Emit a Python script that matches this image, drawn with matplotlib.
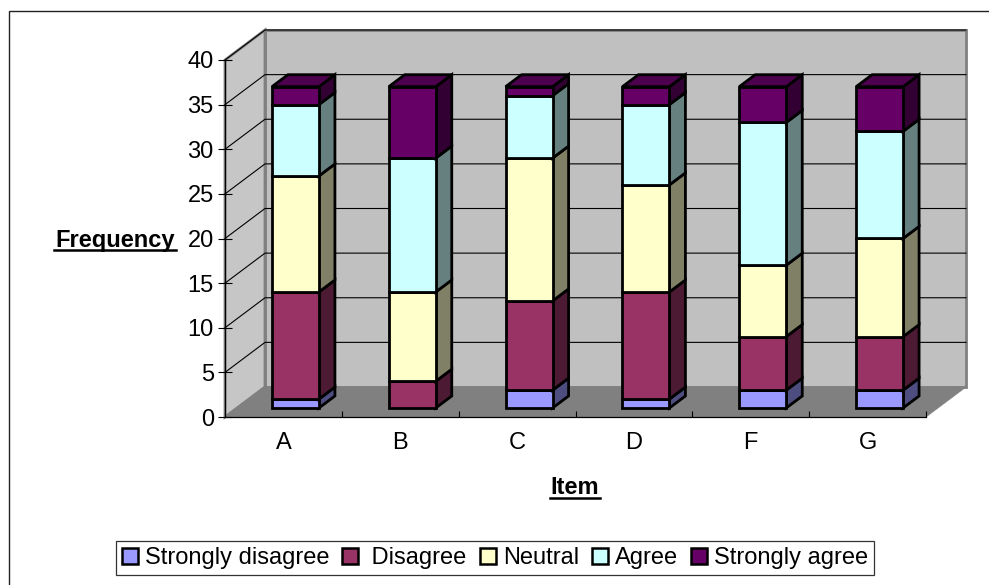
import matplotlib
matplotlib.use("Agg")
import matplotlib.pyplot as plt
from matplotlib.patches import Polygon, Rectangle
from matplotlib.lines import Line2D

plt.rcParams['font.family'] = ['Liberation Sans', 'DejaVu Sans']

items = ['A', 'B', 'C', 'D', 'F', 'G']
strongly_disagree = [1, 0, 2, 1, 2, 2]
disagree = [12, 3, 10, 12, 6, 6]
neutral = [13, 10, 16, 12, 8, 11]
agree = [8, 15, 7, 9, 16, 12]
strongly_agree = [2, 8, 1, 2, 4, 5]
series_names = ['Strongly disagree', ' Disagree', 'Neutral', 'Agree', 'Strongly agree']
series = [strongly_disagree, disagree, neutral, agree, strongly_agree]
face_colors = ['#9999FF', '#993366', '#FFFFCC', '#CCFFFF', '#660066']
side_colors = ['#4D4D80', '#4D1A33', '#808066', '#668080', '#330033']
top_color = '#4D004D'
yticks = list(range(0, 45, 5))

W, H = 989, 585
fs = 17
fig = plt.figure(figsize=(W / 100, H / 100), dpi=100, facecolor='white')


def fx(px):
    return px / W


def fy(py):
    return 1 - py / H


fig.add_artist(Rectangle((fx(8.5), fy(H + 5)), fx(W + 5), fy(10.5) - fy(H + 5),
                         transform=fig.transFigure, facecolor='white',
                         edgecolor='#222222', linewidth=1.0, zorder=-5))

ax = fig.add_axes([fx(225), fy(417), fx(926 - 225), fy(60) - fy(417)])
ax.set_xlim(0, len(items))
ax.set_ylim(0, 40)
ax.patch.set_visible(False)

DX, DY = 40 / (701 / 6), 30 / (357 / 40)   # 3-D depth in data units
NX = len(items)

# walls and floor
wall_kw = dict(clip_on=False, joinstyle='miter')
ax.add_patch(Polygon([(DX, DY), (NX + DX, DY), (NX + DX, 40 + DY), (DX, 40 + DY)],
                     facecolor='#C0C0C0', edgecolor='#808080', linewidth=2.0, zorder=1, **wall_kw))
ax.add_patch(Polygon([(0, 0), (DX, DY), (DX, 40 + DY), (0, 40)],
                     facecolor='#C6C6C6', edgecolor='#808080', linewidth=2.0, zorder=1, **wall_kw))
ax.add_patch(Polygon([(0, 0), (NX, 0), (NX + DX, DY), (DX, DY)],
                     facecolor='#808080', edgecolor='#808080', linewidth=0.5, zorder=1.1, **wall_kw))

# gridlines
for v in yticks[1:]:
    ax.plot([0, DX, NX + DX], [v, v + DY, v + DY], color='black', lw=0.8,
            clip_on=False, zorder=1.2, solid_joinstyle='miter')

# bars
BW = 47 / (701 / 6)
FRONT, BACK = 0.3, 0.7
edge = dict(edgecolor='black', linewidth=2.0, joinstyle='miter', clip_on=False, zorder=2)
for i in range(NX):
    x0 = i + 0.5 + FRONT * DX - BW / 2
    x1 = x0 + BW
    off_y = FRONT * DY
    ddx, ddy = (BACK - FRONT) * DX, (BACK - FRONT) * DY
    base = 0
    for s, vals in enumerate(series):
        v = vals[i]
        if v == 0:
            continue
        lo, hi = base + off_y, base + v + off_y
        ax.add_patch(Polygon([(x1, lo), (x1 + ddx, lo + ddy), (x1 + ddx, hi + ddy), (x1, hi)],
                             facecolor=side_colors[s], **edge))
        ax.add_patch(Polygon([(x0, lo), (x1, lo), (x1, hi), (x0, hi)],
                             facecolor=face_colors[s], **edge))
        base += v
    top = base + off_y
    ax.add_patch(Polygon([(x0, top), (x1, top), (x1 + ddx, top + ddy), (x0 + ddx, top + ddy)],
                         facecolor=top_color, **edge))

# axes
for side in ('top', 'right'):
    ax.spines[side].set_visible(False)
for side in ('left', 'bottom'):
    ax.spines[side].set_linewidth(0.9)
    ax.spines[side].set_color('black')
    ax.spines[side].set_zorder(3)
ax.set_yticks(yticks)
ax.set_yticklabels([str(v) for v in yticks], fontsize=fs)
ax.tick_params(axis='y', direction='inout', length=9.4, width=0.8, pad=3.4)
ax.set_xticks([i + 0.5 for i in range(NX)])
ax.set_xticklabels(items, fontsize=fs)
ax.tick_params(axis='x', which='major', length=0, pad=10.5)
ax.set_xticks(list(range(1, NX + 1)), minor=True)
ax.tick_params(axis='x', which='minor', direction='in', length=4.3, width=0.8)

# axis titles (underlined bold)
fig.text(fx(115), fy(240), 'Frequency', fontsize=fs, fontweight='bold', ha='center', va='center')
fig.add_artist(Line2D([fx(54), fx(176)], [fy(250), fy(250)], color='black', lw=1.8,
                      transform=fig.transFigure))
fig.text(fx(575), fy(488), 'Item', fontsize=fs, fontweight='bold', ha='center', va='center')
fig.add_artist(Line2D([fx(550), fx(600)], [fy(498), fy(498)], color='black', lw=1.8,
                      transform=fig.transFigure))

# legend
handles = [Rectangle((0, 0), 1, 1, facecolor=c, edgecolor='black', linewidth=1.8) for c in face_colors]
leg = fig.legend(handles, series_names, ncol=5, loc='center',
                 bbox_to_anchor=(fx(495), fy(558)), bbox_transform=fig.transFigure,
                 fontsize=fs, frameon=True, fancybox=False, framealpha=1,
                 edgecolor='#333333', handlelength=0.68, handleheight=0.68,
                 handletextpad=0.3, columnspacing=0.55, borderpad=0.25, borderaxespad=0)
leg.get_frame().set_linewidth(0.9)

fig.savefig('out.png', dpi=100)
